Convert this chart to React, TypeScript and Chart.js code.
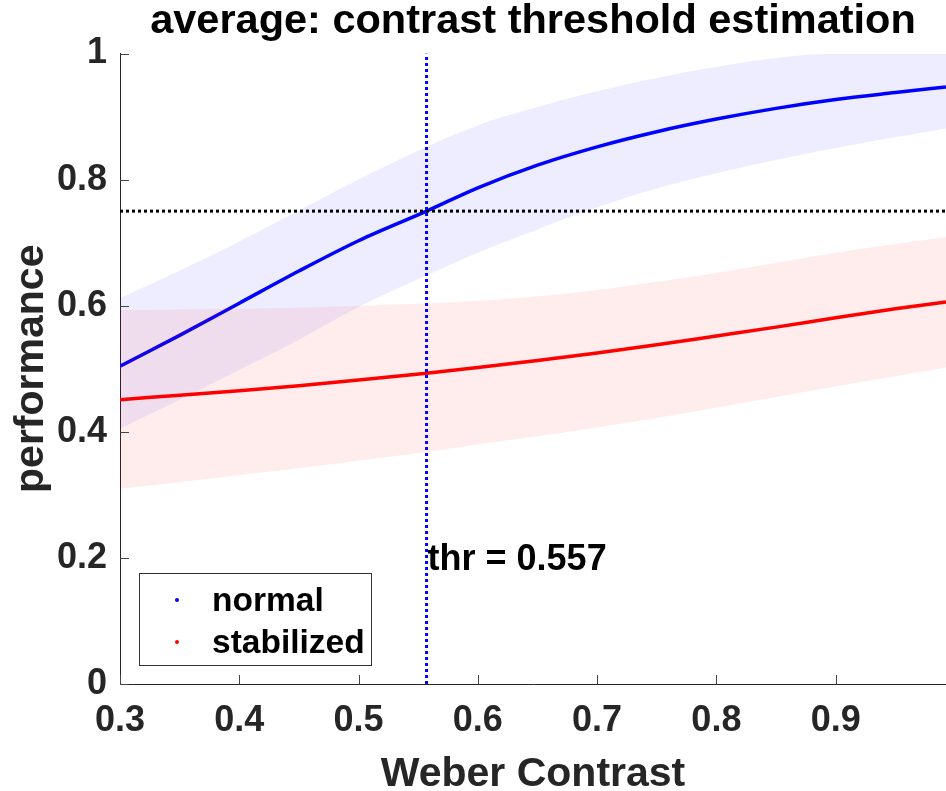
import React, { useEffect, useRef } from 'react';
import { Chart, registerables } from 'chart.js';

Chart.register(...registerables);

// ---- data ----
const contrast = [0.3, 0.35, 0.4, 0.45, 0.5, 0.557, 0.6, 0.65, 0.7, 0.75, 0.8, 0.85, 0.9, 0.95, 0.9925];
const normalMean = [0.504, 0.553, 0.604, 0.655, 0.703, 0.75, 0.787, 0.823, 0.852, 0.876, 0.896, 0.913, 0.927, 0.938, 0.947];
const normalUpper = [0.612, 0.656, 0.702, 0.751, 0.8, 0.852, 0.886, 0.915, 0.94, 0.961, 0.979, 0.993, 1.0, 1.0, 1.0];
const normalLower = [0.405, 0.451, 0.498, 0.546, 0.598, 0.648, 0.684, 0.721, 0.756, 0.786, 0.81, 0.831, 0.85, 0.867, 0.881];
const stabMean = [0.451, 0.458, 0.465, 0.473, 0.482, 0.493, 0.502, 0.513, 0.525, 0.538, 0.552, 0.566, 0.581, 0.595, 0.606];
const stabUpper = [0.593, 0.594, 0.595, 0.597, 0.6, 0.604, 0.608, 0.615, 0.625, 0.638, 0.652, 0.668, 0.684, 0.698, 0.709];
const stabLower = [0.31, 0.32, 0.331, 0.342, 0.354, 0.368, 0.38, 0.393, 0.407, 0.422, 0.438, 0.455, 0.472, 0.488, 0.502];
const threshold = 0.557;
const criterion = 0.75;
const xTicks = [0.3, 0.4, 0.5, 0.6, 0.7, 0.8, 0.9];
const yTicks = [0, 0.2, 0.4, 0.6, 0.8, 1];
const xMin = 0.3;
const xMax = 0.9925;
const seriesNames = ['normal', 'stabilized'];
const titleText = 'average: contrast threshold estimation';
const xLabel = 'Weber Contrast';
const yLabel = 'performance';
const thrLabel = 'thr = ' + threshold.toFixed(3);
const thrLabelY = 0.2;

const FONT = "'Liberation Sans', Arial, Helvetica, sans-serif";
const BLUE = '#0000ff';
const RED = '#ff0000';
const AXIS = '#262626';

const pts = (ys: number[]) => contrast.map((x, i) => ({ x, y: ys[i] }));

const extrasPlugin = {
  id: 'extras',
  afterDatasetsDraw(chart: any) {
    const { ctx, chartArea, scales } = chart;
    const xs = scales.x;
    const ys = scales.y;
    ctx.save();
    // inward tick marks
    ctx.strokeStyle = '#444';
    ctx.lineWidth = 1;
    ctx.beginPath();
    xTicks.forEach((v) => {
      const px = Math.round(xs.getPixelForValue(v)) + 0.5;
      ctx.moveTo(px, chartArea.bottom);
      ctx.lineTo(px, chartArea.bottom - 9);
    });
    yTicks.forEach((v) => {
      const py = Math.round(ys.getPixelForValue(v)) + 0.5;
      ctx.moveTo(chartArea.left, py);
      ctx.lineTo(chartArea.left + 9, py);
    });
    ctx.stroke();

    // threshold text
    ctx.fillStyle = '#000';
    ctx.font = `bold 36px ${FONT}`;
    ctx.textAlign = 'left';
    ctx.textBaseline = 'middle';
    ctx.fillText(thrLabel, xs.getPixelForValue(threshold) + 1, ys.getPixelForValue(thrLabelY) + 2);

    // legend box
    const bx = chartArea.left + 19;
    const by = chartArea.bottom - 111;
    const bw = 232;
    const bh = 92;
    ctx.fillStyle = '#fff';
    ctx.fillRect(bx, by, bw, bh);
    ctx.strokeStyle = '#333';
    ctx.lineWidth = 1;
    ctx.strokeRect(bx + 0.5, by + 0.5, bw, bh);
    const colors = [BLUE, RED];
    ctx.font = `bold 33.5px ${FONT}`;
    ctx.textBaseline = 'middle';
    seriesNames.forEach((name, i) => {
      const cy = by + 27 + i * 42;
      ctx.fillStyle = colors[i];
      ctx.beginPath();
      ctx.arc(bx + 38, cy, 2, 0, Math.PI * 2);
      ctx.fill();
      ctx.fillStyle = '#000';
      ctx.fillText(name, bx + 73, cy + 2);
    });
    ctx.restore();
  },
};

export default function App() {
  const ref = useRef<HTMLCanvasElement | null>(null);
  useEffect(() => {
    document.body.style.margin = '0';
    const canvas = ref.current;
    if (!canvas) return;
    const tickFont = { family: FONT, size: 36, weight: 'bold' as const, lineHeight: 1 };
    const band = (ys: number[], color: string | null, target: number | false) => ({
      label: 'band',
      data: pts(ys),
      borderWidth: 0,
      borderColor: 'rgba(0,0,0,0)',
      backgroundColor: color || 'rgba(0,0,0,0)',
      pointRadius: 0,
      tension: 0.4,
      fill: target,
    });
    const chart = new Chart(canvas, {
      type: 'line',
      data: {
        datasets: [
          {
            label: 'threshold',
            data: [{ x: threshold, y: 0 }, { x: threshold, y: 1 }],
            borderColor: BLUE,
            borderWidth: 3,
            borderDash: [3, 3],
            pointRadius: 0,
            fill: false,
          },
          {
            label: 'criterion',
            data: [{ x: xMin, y: criterion }, { x: xMax, y: criterion }],
            borderColor: '#000',
            borderWidth: 3,
            borderDash: [3, 3],
            pointRadius: 0,
            fill: false,
          },
          {
            label: seriesNames[1],
            data: pts(stabMean),
            borderColor: RED,
            borderWidth: 3.5,
            pointRadius: 0,
            cubicInterpolationMode: 'monotone',
            fill: false,
          },
          band(stabUpper, 'rgba(255,0,0,0.07)', 4),
          band(stabLower, null, false),
          {
            label: seriesNames[0],
            data: pts(normalMean),
            borderColor: BLUE,
            borderWidth: 3.5,
            pointRadius: 0,
            cubicInterpolationMode: 'monotone',
            fill: false,
          },
          band(normalUpper, 'rgba(0,0,255,0.07)', 7),
          band(normalLower, null, false),
        ],
      },
      options: {
        animation: false,
        responsive: false,
        devicePixelRatio: 1,
        layout: { padding: 0 },
        plugins: {
          legend: { display: false },
          tooltip: { enabled: false },
          title: {
            display: true,
            text: titleText,
            fullSize: false,
            color: '#000',
            font: { family: FONT, size: 41.5, weight: 'bold', lineHeight: 1 },
            padding: { top: 1, bottom: 11 },
          },
        },
        scales: {
          x: {
            type: 'linear',
            position: 'bottom',
            min: xMin,
            max: xMax,
            grid: { display: false, drawTicks: false },
            border: { display: true, color: AXIS, width: 1 },
            afterBuildTicks: (s: any) => {
              s.ticks = xTicks.map((v) => ({ value: v }));
            },
            afterFit: (s: any) => {
              s.height = 107;
            },
            ticks: {
              autoSkip: false,
              maxRotation: 0,
              minRotation: 0,
              padding: 19,
              color: AXIS,
              font: tickFont,
              callback: (v: any) => Number(v).toFixed(1),
            },
            title: {
              display: true,
              text: xLabel,
              color: AXIS,
              font: { family: FONT, size: 41, weight: 'bold', lineHeight: 0.8 },
              padding: { top: 0, bottom: 0 },
            },
          },
          y: {
            type: 'linear',
            position: 'left',
            min: 0,
            max: 1,
            grid: { display: false, drawTicks: false },
            border: { display: true, color: AXIS, width: 1 },
            afterBuildTicks: (s: any) => {
              s.ticks = yTicks.map((v) => ({ value: v }));
            },
            afterFit: (s: any) => {
              s.width = 120;
            },
            ticks: {
              padding: 13,
              color: AXIS,
              font: tickFont,
              callback: (v: any) => String(Number(Number(v).toFixed(1))),
            },
            title: {
              display: true,
              text: yLabel,
              color: AXIS,
              font: { family: FONT, size: 41, weight: 'bold', lineHeight: 1 },
              padding: { top: 11, bottom: 0 },
            },
          },
        },
      },
      plugins: [extrasPlugin],
    } as any);
    return () => chart.destroy();
  }, []);
  return (
    <canvas
      ref={ref}
      width={946}
      height={791}
      style={{ display: 'block', width: 946, height: 791 }}
    />
  );
}
